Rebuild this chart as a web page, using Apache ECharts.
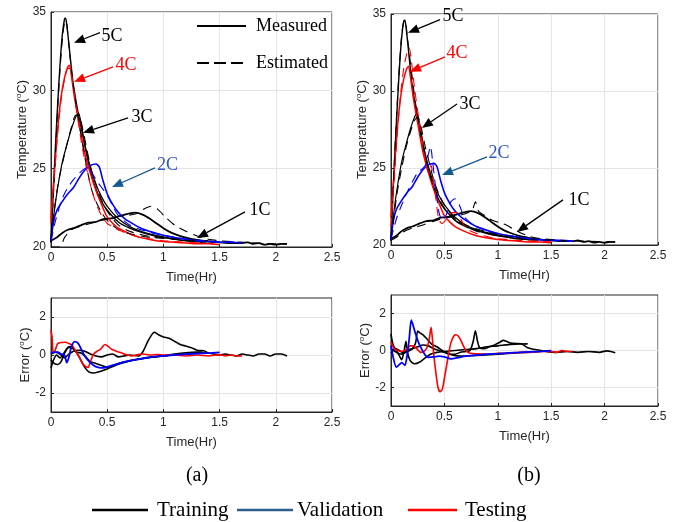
<!DOCTYPE html>
<html>
<head>
<meta charset="utf-8">
<script src="https://cdn.jsdelivr.net/npm/echarts@6/dist/echarts.min.js"></script>
<style>
  html, body { margin: 0; padding: 0; background: #fff; }
  #chart { width: 679px; height: 522px; }
</style>
</head>
<body>
<div id="chart"></div>
<script>
// ---- Measured cell temperature (time in hours, temperature in degC) ----
const meas1C = [[0,20.4],[0.05,20.6],[0.1,20.9],[0.15,21.1],[0.2,21.2],[0.27,21.4],[0.33,21.55],[0.4,21.6],[0.45,21.75],[0.5,21.8],[0.55,21.85],[0.6,21.95],[0.65,22.05],[0.7,22.15],[0.75,22.2],[0.82,22.05],[0.88,21.8],[0.94,21.5],[1.0,21.2],[1.06,20.95],[1.12,20.78],[1.2,20.6],[1.3,20.45],[1.4,20.35],[1.5,20.3],[1.6,20.25],[1.7,20.25],[1.75,20.3],[1.8,20.2],[1.85,20.25],[1.9,20.15],[1.95,20.2],[2.0,20.15],[2.05,20.2],[2.1,20.2]];
const meas2C = [[0,20.3],[0.02,21.5],[0.05,22.3],[0.1,22.9],[0.15,23.4],[0.2,23.8],[0.25,24.4],[0.3,24.9],[0.35,25.2],[0.4,25.3],[0.43,25.1],[0.46,24.3],[0.5,23.4],[0.55,22.7],[0.6,22.2],[0.65,21.85],[0.7,21.6],[0.8,21.2],[0.9,20.95],[1.0,20.75],[1.1,20.6],[1.2,20.5],[1.3,20.4],[1.4,20.35],[1.5,20.3],[1.6,20.3],[1.7,20.25]];
const meas3C = [[0,20.4],[0.03,22.3],[0.06,23.8],[0.1,25.4],[0.14,26.5],[0.18,27.5],[0.22,28.3],[0.245,28.55],[0.27,27.8],[0.3,26.6],[0.35,25.1],[0.4,24.0],[0.45,23.2],[0.5,22.6],[0.6,21.8],[0.7,21.3],[0.8,21.0],[0.9,20.8],[1.0,20.65],[1.1,20.5],[1.2,20.4],[1.3,20.35],[1.38,20.3]];
const meas4C = [[0,21.8],[0.03,24.8],[0.06,27.6],[0.09,29.6],[0.12,30.8],[0.15,31.5],[0.165,31.6],[0.18,31.0],[0.21,29.5],[0.25,27.9],[0.3,26.0],[0.35,24.7],[0.4,23.6],[0.45,22.7],[0.5,21.9],[0.55,21.5],[0.6,21.2],[0.7,20.85],[0.8,20.6],[0.9,20.45],[1.0,20.35],[1.1,20.3],[1.2,20.25],[1.3,20.2],[1.4,20.2],[1.5,20.15]];
const meas5C = [[0,20.3],[0.02,23.5],[0.04,26.5],[0.06,29.2],[0.08,31.6],[0.1,33.5],[0.12,34.55],[0.13,34.6],[0.14,34.2],[0.16,32.9],[0.18,31.5],[0.2,30.3],[0.24,28.6],[0.28,27.2],[0.32,25.8],[0.36,24.6],[0.4,23.7],[0.45,22.9],[0.5,22.35],[0.6,21.6],[0.7,21.2],[0.8,20.95],[0.9,20.75],[1.0,20.6],[1.1,20.5],[1.2,20.4],[1.3,20.35],[1.35,20.3]];

// ---- Estimated temperature, model (a) ----
const estA1C = [[0,20.0],[0.08,20.0],[0.12,20.6],[0.18,21.1],[0.25,21.3],[0.35,21.5],[0.45,21.7],[0.55,21.9],[0.65,22.0],[0.75,22.1],[0.82,22.4],[0.89,22.6],[0.95,22.4],[1.02,21.9],[1.1,21.4],[1.2,21.0],[1.3,20.7],[1.4,20.5],[1.5,20.4],[1.7,20.3],[2.0,20.2],[2.1,20.2]];
const estA2C = [[0,20.4],[0.03,21.4],[0.06,22.2],[0.09,22.9],[0.12,23.4],[0.16,23.9],[0.2,24.3],[0.25,24.7],[0.3,25.0],[0.33,25.1],[0.36,24.8],[0.4,24.3],[0.45,23.8],[0.5,23.3],[0.55,22.6],[0.6,22.0],[0.7,21.4],[0.8,21.1],[0.9,20.9],[1.0,20.75],[1.2,20.5],[1.4,20.4],[1.5,20.35],[1.7,20.3]];
const estA3C = [[0,20.6],[0.03,22.4],[0.06,23.9],[0.1,25.3],[0.14,26.5],[0.18,27.6],[0.22,28.4],[0.25,28.4],[0.28,27.6],[0.32,26.2],[0.36,24.9],[0.4,24.0],[0.45,23.0],[0.5,22.3],[0.55,21.8],[0.6,21.4],[0.7,21.0],[0.8,20.8],[0.9,20.65],[1.0,20.6],[1.2,20.45],[1.4,20.4]];
const estA4C = [[0,21.5],[0.03,24.5],[0.06,27.3],[0.09,29.4],[0.12,30.7],[0.15,31.4],[0.17,31.4],[0.2,30.1],[0.24,28.1],[0.28,26.3],[0.32,24.9],[0.36,23.7],[0.4,22.8],[0.45,22.0],[0.5,21.5],[0.55,21.3],[0.6,21.1],[0.7,20.8],[0.8,20.6],[0.9,20.5],[1.0,20.4],[1.2,20.3],[1.5,20.2]];
const estA5C = [[0,20.3],[0.02,23],[0.04,26],[0.06,28.9],[0.08,31.3],[0.1,33.2],[0.12,34.3],[0.135,34.4],[0.15,33.6],[0.17,32.1],[0.2,30.2],[0.24,28.3],[0.28,26.6],[0.32,25.0],[0.36,23.7],[0.4,22.9],[0.45,22.2],[0.5,21.7],[0.6,21.1],[0.7,20.85],[0.8,20.7],[0.9,20.6],[1.0,20.55],[1.1,20.5],[1.2,20.45],[1.35,20.4]];

// ---- Estimated temperature, model (b) ----
const estB1C = [[0,20.3],[0.05,20.5],[0.1,20.8],[0.2,21.1],[0.3,21.3],[0.4,21.55],[0.5,21.75],[0.6,21.85],[0.7,22.05],[0.76,22.25],[0.79,22.8],[0.82,22.2],[0.88,21.9],[0.95,21.6],[1.02,21.45],[1.08,21.3],[1.14,21.05],[1.21,20.8],[1.3,20.55],[1.4,20.42],[1.6,20.3],[1.8,20.25],[2.1,20.2]];
const estB2C = [[0,20.4],[0.03,21.2],[0.06,21.9],[0.1,22.6],[0.15,23.4],[0.2,24.1],[0.25,24.7],[0.3,25.0],[0.33,25.3],[0.35,25.9],[0.37,26.4],[0.39,25.4],[0.42,23.6],[0.45,22.1],[0.48,21.6],[0.52,22.0],[0.56,22.8],[0.6,23.0],[0.64,22.6],[0.68,21.9],[0.75,21.4],[0.85,21.05],[1.0,20.75],[1.2,20.5],[1.4,20.35],[1.7,20.25]];
const estB3C = [[0,20.4],[0.03,22.0],[0.06,23.5],[0.1,25.0],[0.14,26.3],[0.18,27.3],[0.22,28.1],[0.25,28.3],[0.28,27.7],[0.32,26.4],[0.36,25.3],[0.4,24.2],[0.45,23.3],[0.5,22.6],[0.6,21.7],[0.7,21.2],[0.8,20.9],[0.9,20.75],[1.0,20.6],[1.2,20.45],[1.4,20.35],[1.5,20.3]];
const estB4C = [[0,21.2],[0.03,24.2],[0.06,27.3],[0.09,29.8],[0.12,31.5],[0.15,32.5],[0.17,32.8],[0.19,32.0],[0.22,30.2],[0.26,28.2],[0.3,26.4],[0.34,24.9],[0.36,24.6],[0.375,25.2],[0.39,24.6],[0.42,23.0],[0.45,21.6],[0.48,21.4],[0.52,21.7],[0.57,22.1],[0.61,22.1],[0.66,21.6],[0.7,21.1],[0.8,20.75],[0.9,20.55],[1.0,20.4],[1.2,20.3],[1.5,20.2]];
const estB5C = [[0,20.3],[0.02,23.6],[0.04,26.7],[0.06,29.4],[0.08,31.8],[0.1,33.6],[0.12,34.5],[0.135,34.5],[0.15,33.7],[0.17,32.5],[0.2,30.8],[0.23,29.2],[0.26,27.9],[0.3,26.4],[0.35,24.9],[0.4,23.8],[0.45,23.0],[0.5,22.4],[0.6,21.7],[0.7,21.3],[0.8,21.05],[0.9,20.85],[1.0,20.7],[1.1,20.6],[1.2,20.55],[1.28,20.5]];

// ---- Estimation error, model (a) ----
const errA1C = [[0,0.05],[0.04,0.15],[0.08,0.05],[0.12,-0.15],[0.16,0.05],[0.2,0.2],[0.25,0.25],[0.3,0.2],[0.35,0.05],[0.4,-0.05],[0.45,-0.1],[0.5,0.0],[0.55,0.05],[0.6,-0.1],[0.65,-0.05],[0.7,0.0],[0.78,-0.05],[0.82,0.2],[0.86,0.7],[0.9,1.1],[0.92,1.2],[0.96,1.05],[1.0,0.95],[1.05,0.88],[1.1,0.72],[1.15,0.55],[1.2,0.47],[1.25,0.38],[1.3,0.25],[1.36,0.22],[1.4,0.1],[1.45,0.05],[1.5,0.0],[1.55,0.05],[1.6,0.0],[1.65,-0.05],[1.7,0.05],[1.75,0.0],[1.8,-0.05],[1.85,0.05],[1.9,0.05],[1.95,-0.05],[2.0,0.05],[2.05,0.05],[2.1,-0.05]];
const errA3C = [[0,-0.25],[0.03,-0.45],[0.06,-0.5],[0.09,-0.35],[0.12,0.1],[0.16,0.4],[0.19,0.35],[0.23,0.15],[0.27,0.1],[0.31,-0.1],[0.35,-0.35],[0.4,-0.45],[0.45,-0.55],[0.5,-0.65],[0.55,-0.55],[0.6,-0.45],[0.7,-0.3],[0.8,-0.2],[0.9,-0.12],[1.0,-0.05],[1.1,0.0],[1.2,0.05],[1.3,0.1],[1.4,0.1]];
const errA5C = [[0,-0.7],[0.02,-0.3],[0.05,0.0],[0.08,-0.15],[0.11,0.05],[0.15,0.4],[0.18,0.45],[0.22,0.2],[0.26,-0.2],[0.3,-0.65],[0.34,-0.9],[0.38,-0.95],[0.42,-0.9],[0.48,-0.78],[0.55,-0.6],[0.62,-0.45],[0.7,-0.32],[0.8,-0.2],[0.9,-0.1],[1.0,-0.05],[1.1,0.05],[1.2,0.12],[1.3,0.15],[1.35,0.15]];
const errA2C = [[0,0.1],[0.03,0.15],[0.06,0.15],[0.09,0.05],[0.12,0.0],[0.14,-0.4],[0.16,-0.1],[0.18,0.4],[0.21,0.7],[0.24,0.62],[0.27,0.3],[0.3,-0.05],[0.34,-0.35],[0.38,-0.55],[0.42,-0.65],[0.46,-0.68],[0.5,-0.62],[0.6,-0.45],[0.7,-0.3],[0.8,-0.2],[0.9,-0.1],[1.0,-0.05],[1.1,0.0],[1.2,0.05],[1.3,0.08],[1.4,0.1],[1.5,0.14]];
const errA4C = [[0,1.33],[0.01,0.9],[0.02,0.1],[0.04,0.3],[0.06,0.6],[0.09,0.66],[0.13,0.67],[0.16,0.6],[0.19,0.5],[0.22,0.2],[0.25,-0.1],[0.28,-0.45],[0.31,-0.62],[0.33,-0.65],[0.35,-0.35],[0.38,0.05],[0.41,0.2],[0.44,0.3],[0.48,0.55],[0.51,0.45],[0.54,0.3],[0.58,0.2],[0.63,0.1],[0.68,0.0],[0.72,-0.05],[0.77,0.02],[0.82,0.05],[0.88,0.0],[0.95,0.02],[1.0,0.0],[1.1,0.0],[1.2,-0.05],[1.3,0.0],[1.4,-0.05],[1.5,0.02],[1.55,-0.05],[1.6,0.0],[1.65,-0.05],[1.7,-0.05]];

// ---- Estimation error, model (b) ----
const errB1C = [[0,0.1],[0.05,-0.1],[0.1,-0.2],[0.15,0.0],[0.2,0.1],[0.25,0.2],[0.3,0.3],[0.35,0.25],[0.4,0.1],[0.45,0.0],[0.5,-0.1],[0.55,-0.2],[0.6,-0.2],[0.65,-0.1],[0.7,-0.05],[0.74,0.0],[0.77,0.5],[0.79,1.07],[0.81,0.5],[0.83,0.15],[0.87,0.1],[0.92,0.2],[0.97,0.3],[1.02,0.45],[1.05,0.55],[1.08,0.5],[1.12,0.4],[1.17,0.38],[1.22,0.36],[1.28,0.15],[1.35,0.05],[1.45,-0.05],[1.55,-0.1],[1.65,-0.05],[1.75,-0.1],[1.85,-0.05],[1.95,-0.1],[2.02,-0.02],[2.06,-0.05],[2.1,-0.12]];
const errB3C = [[0,-0.15],[0.04,0.1],[0.08,0.0],[0.12,-0.15],[0.16,-0.05],[0.2,0.1],[0.23,0.4],[0.25,1.05],[0.27,0.95],[0.3,0.85],[0.34,0.6],[0.38,0.35],[0.43,0.2],[0.48,0.0],[0.53,-0.15],[0.58,-0.25],[0.65,-0.3],[0.75,-0.28],[0.85,-0.25],[1.0,-0.2],[1.2,-0.12],[1.4,-0.05],[1.5,0.0]];
const errB5C = [[0,0.9],[0.02,0.3],[0.05,0.0],[0.08,-0.3],[0.1,-0.5],[0.12,-0.1],[0.14,0.5],[0.15,0.0],[0.18,-0.55],[0.22,-0.72],[0.27,-0.62],[0.32,-0.4],[0.37,-0.2],[0.43,-0.1],[0.5,-0.05],[0.6,0.0],[0.7,0.05],[0.8,0.1],[0.9,0.2],[1.0,0.25],[1.1,0.32],[1.2,0.35],[1.28,0.36]];
const errB2C = [[0,0.27],[0.02,-0.35],[0.05,-0.9],[0.08,-0.75],[0.1,-0.65],[0.13,-0.8],[0.15,-0.3],[0.17,0.6],[0.19,1.64],[0.21,1.3],[0.23,0.9],[0.26,0.4],[0.29,0.05],[0.32,-0.25],[0.35,-0.37],[0.4,-0.35],[0.45,-0.3],[0.5,-0.35],[0.56,-0.45],[0.62,-0.4],[0.7,-0.3],[0.8,-0.25],[0.9,-0.2],[1.0,-0.17],[1.1,-0.13],[1.2,-0.1],[1.3,-0.07],[1.4,-0.05],[1.5,-0.02]];
const errB4C = [[0,0.45],[0.03,0.1],[0.06,0.0],[0.1,-0.05],[0.14,0.05],[0.18,0.25],[0.21,0.25],[0.24,0.1],[0.28,-0.1],[0.31,-0.05],[0.34,0.2],[0.36,0.7],[0.375,1.25],[0.385,0.8],[0.4,-0.2],[0.42,-1.2],[0.44,-2.0],[0.46,-2.23],[0.48,-2.1],[0.5,-1.5],[0.53,-0.5],[0.56,0.4],[0.59,0.8],[0.61,0.85],[0.64,0.7],[0.67,0.35],[0.7,0.0],[0.74,-0.15],[0.8,-0.18],[0.9,-0.2],[1.0,-0.15],[1.1,-0.15],[1.2,-0.1],[1.3,-0.1],[1.4,-0.05],[1.5,-0.05],[1.55,-0.1],[1.6,0.0],[1.65,-0.05],[1.7,-0.05]];

// ---- Axis tick values ----
const timeTicks = [0, 0.5, 1, 1.5, 2, 2.5];
const tempTicks = [20, 25, 30, 35];
const errTicks = [-2, 0, 2];

const SANS = "'Liberation Sans', Arial, Helvetica, sans-serif";
const SERIF = "'Liberation Serif', 'Times New Roman', serif";
const INK = '#262626';
const GRID_LINE = '#e4e4e4';
const BLACK = '#000000', RED = '#ff0000', BLUE = '#0000ff', VAL_BLUE = '#2e5d8c';

const chart = echarts.init(document.getElementById('chart'), null, { renderer: 'canvas' });

const grids = [
  { left: 51, top: 12, width: 281, height: 235 },   // temperature (a)
  { left: 391, top: 14, width: 267, height: 231 },  // temperature (b)
  { left: 51, top: 298, width: 281, height: 114 },  // error (a)
  { left: 391, top: 295, width: 267, height: 111 }  // error (b)
].map(g => Object.assign({ show: true, borderColor: INK, borderWidth: 1, backgroundColor: '#fff' }, g));

const supRich = { sup: { fontSize: 8, fontFamily: SANS, color: INK, verticalAlign: 'top', lineHeight: 14 } };

function xAxisFor(i) {
  return {
    type: 'value', gridIndex: i, min: timeTicks[0], max: timeTicks[timeTicks.length - 1], interval: 0.5,
    name: 'Time(Hr)', nameLocation: 'middle', nameGap: 24,
    nameTextStyle: { fontFamily: SANS, fontSize: 13, color: INK },
    axisLine: { show: true, onZero: false, lineStyle: { color: INK, width: 1 } },
    axisTick: { show: true, inside: true, length: 3, lineStyle: { color: INK } },
    axisLabel: { fontFamily: SANS, fontSize: 12, color: INK, margin: 5, showMaxLabel: true, showMinLabel: true },
    splitLine: { show: true, lineStyle: { color: GRID_LINE, width: 1 } }
  };
}
function yAxisFor(i, isTemp) {
  const base = {
    type: 'value', gridIndex: i,
    nameLocation: 'middle',
    nameTextStyle: { fontFamily: SANS, fontSize: 13, color: INK, rich: supRich },
    axisLine: { show: true, onZero: false, lineStyle: { color: INK, width: 1 } },
    axisLabel: { fontFamily: SANS, fontSize: 12, color: INK, margin: 5 },
    splitLine: { show: true, lineStyle: { color: GRID_LINE, width: 1 } }
  };
  if (isTemp) {
    return Object.assign(base, {
      min: tempTicks[0], max: tempTicks[tempTicks.length - 1], interval: 5,
      name: 'Temperature ({sup|o}C)', nameGap: 22,
      axisTick: { show: true, inside: true, length: 3, lineStyle: { color: INK } }
    });
  }
  return Object.assign(base, {
    min: -3, max: 3, interval: 1,
    name: 'Error ({sup|o}C)', nameGap: 19,
    axisTick: { show: true, inside: true, length: 3, lineStyle: { color: INK }, customValues: errTicks },
    axisLabel: Object.assign({}, base.axisLabel, { customValues: errTicks })
  });
}

function line(gi, data, color, width, dashed) {
  return {
    type: 'line', xAxisIndex: gi, yAxisIndex: gi, data: data,
    showSymbol: false, symbol: 'none', smooth: 0.25, silent: true,
    lineStyle: { color: color, width: width, type: dashed ? [9, 6] : 'solid' },
    z: dashed ? 3 : 2
  };
}

const series = [
  // temperature (a)
  line(0, meas1C, BLACK, 1.8), line(0, meas3C, BLACK, 1.2), line(0, meas5C, BLACK, 1.4),
  line(0, meas2C, BLUE, 1.6), line(0, meas4C, RED, 1.5),
  line(0, estA1C, BLACK, 1.1, true), line(0, estA3C, BLACK, 1.1, true), line(0, estA5C, BLACK, 1.1, true),
  line(0, estA2C, BLUE, 1.1, true), line(0, estA4C, RED, 1.1, true),
  // temperature (b)
  line(1, meas1C, BLACK, 1.8), line(1, meas3C, BLACK, 1.2), line(1, meas5C, BLACK, 1.4),
  line(1, meas2C, BLUE, 1.6), line(1, meas4C, RED, 1.5),
  line(1, estB1C, BLACK, 1.1, true), line(1, estB3C, BLACK, 1.1, true), line(1, estB5C, BLACK, 1.1, true),
  line(1, estB2C, BLUE, 1.1, true), line(1, estB4C, RED, 1.1, true),
  // error (a)
  line(2, errA1C, BLACK, 1.6), line(2, errA3C, BLACK, 1.6), line(2, errA5C, BLACK, 1.6),
  line(2, errA4C, RED, 1.6), line(2, errA2C, BLUE, 1.8),
  // error (b)
  line(3, errB1C, BLACK, 1.6), line(3, errB3C, BLACK, 1.6), line(3, errB5C, BLACK, 1.6),
  line(3, errB4C, RED, 1.6), line(3, errB2C, BLUE, 1.8)
];

chart.setOption({
  animation: false,
  backgroundColor: '#ffffff',
  grid: grids,
  xAxis: [0, 1, 2, 3].map(xAxisFor),
  yAxis: [yAxisFor(0, true), yAxisFor(1, true), yAxisFor(2, false), yAxisFor(3, false)],
  series: series
});

// ---- Annotations: C-rate arrows, given in data coordinates of each temperature panel ----
const rateNotesA = [
  { label: '5C', color: BLACK, text: [0.543, 33.42], tail: [0.436, 33.68], tip: [0.205, 33.04] },
  { label: '4C', color: RED, text: [0.667, 31.57], tail: [0.552, 31.5], tip: [0.205, 30.55] },
  { label: '3C', color: BLACK, text: [0.81, 28.31], tail: [0.685, 28.24], tip: [0.285, 27.29] },
  { label: '2C', color: '#2f55c8', arrow: '#135a92', text: [1.036, 25.24], tail: [0.925, 25.05], tip: [0.543, 23.83] },
  { label: '1C', color: BLACK, text: [1.86, 22.37], tail: [1.726, 22.24], tip: [1.299, 20.58] }
];
const rateNotesB = [
  { label: '5C', color: BLACK, text: [0.58, 34.85], tail: [0.459, 34.63], tip: [0.159, 33.78] },
  { label: '4C', color: RED, text: [0.618, 32.48], tail: [0.506, 32.22], tip: [0.178, 31.25] },
  { label: '3C', color: BLACK, text: [0.74, 29.16], tail: [0.618, 29.16], tip: [0.29, 27.6] },
  { label: '2C', color: '#2f55c8', arrow: '#135a92', text: [1.011, 25.98], tail: [0.899, 25.72], tip: [0.478, 24.55] },
  { label: '1C', color: BLACK, text: [1.76, 22.92], tail: [1.61, 22.93], tip: [1.18, 20.85] }
];

function toPx(gi, p) {
  return chart.convertToPixel({ xAxisIndex: gi, yAxisIndex: gi }, p);
}

function arrowElems(gi, note) {
  const a = toPx(gi, note.tail), b = toPx(gi, note.tip), t = toPx(gi, note.text);
  const col = note.arrow || note.color;
  const dx = b[0] - a[0], dy = b[1] - a[1];
  const len = Math.sqrt(dx * dx + dy * dy);
  const ux = dx / len, uy = dy / len;
  const headLen = 11, headHalf = 4.5;
  const bx = b[0] - ux * headLen, by = b[1] - uy * headLen;
  return [
    { type: 'line', z: 50, shape: { x1: a[0], y1: a[1], x2: bx, y2: by }, style: { stroke: col, lineWidth: 1.3 } },
    { type: 'polygon', z: 50, shape: { points: [[b[0], b[1]], [bx - uy * headHalf, by + ux * headHalf], [bx + uy * headHalf, by - ux * headHalf]] }, style: { fill: col } },
    { type: 'text', z: 51, x: t[0], y: t[1], style: { text: note.label, fill: note.color, font: '18px ' + SERIF, align: 'center', verticalAlign: 'middle' } }
  ];
}

const graphics = [];
rateNotesA.forEach(n => graphics.push(...arrowElems(0, n)));
rateNotesB.forEach(n => graphics.push(...arrowElems(1, n)));

// Line-style key inside panel (a)
graphics.push(
  { type: 'line', z: 50, shape: { x1: 197, y1: 26, x2: 246, y2: 26 }, style: { stroke: BLACK, lineWidth: 2.2 } },
  { type: 'text', z: 51, x: 256, y: 26, style: { text: 'Measured', fill: BLACK, font: '18px ' + SERIF, verticalAlign: 'middle' } },
  { type: 'line', z: 50, shape: { x1: 197, y1: 63, x2: 246, y2: 63 }, style: { stroke: BLACK, lineWidth: 2.2, lineDash: [12, 5] } },
  { type: 'text', z: 51, x: 256, y: 63, style: { text: 'Estimated', fill: BLACK, font: '18px ' + SERIF, verticalAlign: 'middle' } }
);

// Panel captions
graphics.push(
  { type: 'text', z: 51, x: 197, y: 476, style: { text: '(a)', fill: BLACK, font: '20px ' + SERIF, align: 'center', verticalAlign: 'middle' } },
  { type: 'text', z: 51, x: 529, y: 476, style: { text: '(b)', fill: BLACK, font: '20px ' + SERIF, align: 'center', verticalAlign: 'middle' } }
);

// Data-set key along the bottom
const keyItems = [
  { name: 'Training', color: BLACK, x1: 92, x2: 148, tx: 157 },
  { name: 'Validation', color: VAL_BLUE, x1: 237, x2: 293, tx: 297 },
  { name: 'Testing', color: RED, x1: 408, x2: 457, tx: 465 }
];
keyItems.forEach(k => {
  graphics.push(
    { type: 'line', z: 50, shape: { x1: k.x1, y1: 510, x2: k.x2, y2: 510 }, style: { stroke: k.color, lineWidth: 2.5 } },
    { type: 'text', z: 51, x: k.tx, y: 510, style: { text: k.name, fill: BLACK, font: '21px ' + SERIF, verticalAlign: 'middle' } }
  );
});

chart.setOption({ graphic: graphics });
</script>
</body>
</html>
